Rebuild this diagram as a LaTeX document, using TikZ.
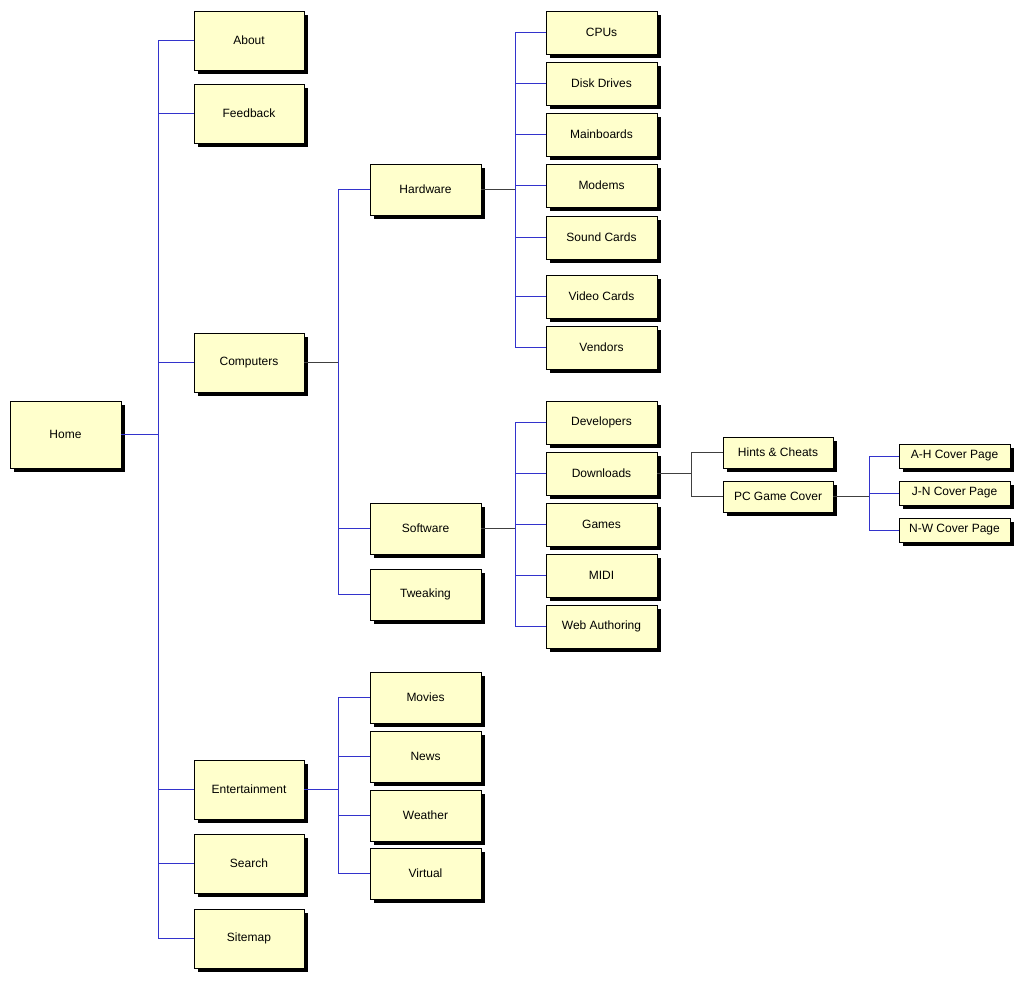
\documentclass[tikz,border=0pt]{standalone}
\usepackage{fontspec}
\setmainfont{Liberation Sans}
\usetikzlibrary{shadows}
\definecolor{boxfill}{HTML}{FFFFCC}
\definecolor{lnblue}{HTML}{3333CC}
\begin{document}
\begin{tikzpicture}[x=1pt,y=-1pt,
  bx/.style={draw=black,line width=0.6pt,fill=boxfill,inner sep=0pt,font=\fontsize{12}{14}\selectfont,
    drop shadow={shadow xshift=4pt,shadow yshift=-4pt,fill=black,opacity=1}},
  ch/.style={draw=lnblue,line width=0.7pt},
  par/.style={draw=black!75,line width=0.7pt}]
\useasboundingbox (0,0) rectangle (1024,984);
\newcommand\bx[6]{\node[bx,minimum width={#4-#2},minimum height={#5-#3}] (#1) at ({(#2+#4)/2},{(#3+#5)/2}) {#6};}
\bx{home}{10}{401}{121}{468}{Home}
\bx{about}{194}{11}{304}{70}{About}
\bx{feed}{194}{84}{304}{143}{Feedback}
\bx{comp}{194}{333}{304}{392}{Computers}
\bx{ent}{194}{760}{304}{819}{Entertainment}
\bx{search}{194}{834}{304}{893}{Search}
\bx{site}{194}{909}{304}{968}{Sitemap}
\bx{hw}{370}{164}{481}{215}{Hardware}
\bx{sw}{370}{503}{481}{554}{Software}
\bx{tw}{370}{569}{481}{620}{Tweaking}
\bx{mov}{370}{672}{481}{723}{Movies}
\bx{news}{370}{731}{481}{782}{News}
\bx{wea}{370}{790}{481}{841}{Weather}
\bx{vir}{370}{848}{481}{899}{Virtual}
\bx{cpu}{546}{11}{657}{54}{CPUs}
\bx{disk}{546}{62}{657}{105}{Disk Drives}
\bx{main}{546}{113}{657}{156}{Mainboards}
\bx{mod}{546}{164}{657}{207}{Modems}
\bx{snd}{546}{216}{657}{259}{Sound Cards}
\bx{vid}{546}{275}{657}{318}{Video Cards}
\bx{ven}{546}{326}{657}{369}{Vendors}
\bx{dev}{546}{401}{657}{444}{Developers}
\bx{dl}{546}{452}{657}{495}{Downloads}
\bx{gam}{546}{503}{657}{546}{Games}
\bx{midi}{546}{554}{657}{597}{MIDI}
\bx{web}{546}{605}{657}{648}{Web Authoring}
\bx{hint}{723}{437}{833}{468}{Hints \& Cheats}
\bx{pcg}{723}{481}{833}{512}{PC Game Cover}
\bx{ah}{899}{444}{1010}{468}{A-H Cover Page}
\bx{jn}{899}{481}{1010}{505}{J-N Cover Page}
\bx{nw}{899}{518}{1010}{542}{N-W Cover Page}
\coordinate (t1) at (158,0);
\coordinate (t2) at (338,0);
\coordinate (t3) at (515,0);
\coordinate (t4) at (338,0);
\coordinate (t5) at (515,0);
\coordinate (t6) at (691,0);
\coordinate (t7) at (869,0);
% Home
\draw[ch] (home.east) -- (home.east -| t1);
\draw[ch] (about.west -| t1) -- (site.west -| t1);
\foreach \c in {about,feed,comp,ent,search,site} \draw[ch] (\c.west -| t1) -- (\c.west);
% Computers
\draw[par] (comp.east) -- (comp.east -| t2);
\draw[ch] (hw.west -| t2) -- (tw.west -| t2);
\foreach \c in {hw,sw,tw} \draw[ch] (\c.west -| t2) -- (\c.west);
% Hardware
\draw[par] (hw.east) -- (hw.east -| t3);
\draw[ch] (cpu.west -| t3) -- (ven.west -| t3);
\foreach \c in {cpu,disk,main,mod,snd,vid,ven} \draw[ch] (\c.west -| t3) -- (\c.west);
% Entertainment
\draw[ch] (ent.east) -- (ent.east -| t4);
\draw[ch] (mov.west -| t4) -- (vir.west -| t4);
\foreach \c in {mov,news,wea,vir} \draw[ch] (\c.west -| t4) -- (\c.west);
% Software
\draw[par] (sw.east) -- (sw.east -| t5);
\draw[ch] (dev.west -| t5) -- (web.west -| t5);
\foreach \c in {dev,dl,gam,midi,web} \draw[ch] (\c.west -| t5) -- (\c.west);
% Downloads
\draw[par] (dl.east) -- (dl.east -| t6);
\draw[par] (hint.west -| t6) -- (pcg.west -| t6);
\foreach \c in {hint,pcg} \draw[par] (\c.west -| t6) -- (\c.west);
% PC Game Cover
\draw[par] (pcg.east) -- (pcg.east -| t7);
\draw[ch] (ah.west -| t7) -- (nw.west -| t7);
\foreach \c in {ah,jn,nw} \draw[ch] (\c.west -| t7) -- (\c.west);
\end{tikzpicture}
\end{document}
